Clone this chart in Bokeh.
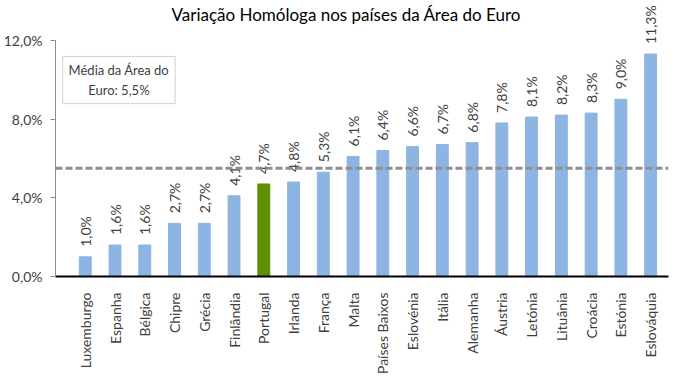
from math import pi
from bokeh.plotting import figure
from bokeh.models import ColumnDataSource, FixedTicker, Span, Label, Range1d
from bokeh.core.properties import value
from bokeh.embed import file_html
from bokeh.resources import INLINE

countries = ["Luxemburgo", "Espanha", "Bélgica", "Chipre", "Grécia", "Finlândia",
             "Portugal", "Irlanda", "França", "Malta", "Países Baixos", "Eslovénia",
             "Itália", "Alemanha", "Áustria", "Letónia", "Lituânia", "Croácia",
             "Estónia", "Eslováquia"]
values = [1.0, 1.6, 1.6, 2.7, 2.7, 4.1, 4.7, 4.8, 5.3, 6.1, 6.4, 6.6, 6.7, 6.8,
          7.8, 8.1, 8.2, 8.3, 9.0, 11.3]
euro_avg = 5.5
y_ticks = [0, 4, 8, 12]
highlight = "Portugal"

BLUE = "#8db4e2"
GREEN = "#5f8f00"
FONT = "Lato"
TXT = "#404040"

idx = list(range(len(countries)))
src = ColumnDataSource(dict(
    x=idx,
    y=values,
    color=[GREEN if c == highlight else BLUE for c in countries],
    lab=[f"{v:.1f}%".replace(".", ",") for v in values],
))

p = figure(width=681, height=377, output_backend="svg", toolbar_location=None,
           x_range=Range1d(-1.0, 19.6), y_range=Range1d(0, 14.02),
           min_border_left=54, min_border_right=13, min_border_top=0,
           min_border_bottom=99)
p.outline_line_color = None
p.xgrid.grid_line_color = None
p.ygrid.grid_line_color = None
p.background_fill_color = "white"
p.border_fill_color = "white"

p.vbar(x="x", top="y", width=0.4, color="color", source=src)

p.text(x="x", y="y", text="lab", source=src, angle=pi / 2, y_offset=-10,
       text_align="left", text_baseline="middle", text_font=value(FONT),
       text_font_size="14px", text_color=TXT)

p.add_layout(Span(location=euro_avg, dimension="width", line_color="#8f8f8f",
                  line_width=3, line_dash="7 3"))

# y axis
p.yaxis.ticker = FixedTicker(ticks=y_ticks)
p.yaxis.major_label_overrides = {t: f"{t:.1f}%".replace(".", ",") for t in y_ticks}
p.yaxis.bounds = (y_ticks[0], y_ticks[-1])
p.yaxis.axis_line_color = "#8c8c8c"
p.yaxis.major_tick_line_color = "#8c8c8c"
p.yaxis.major_tick_in = 0
p.yaxis.major_tick_out = 5
p.yaxis.minor_tick_line_color = None
p.yaxis.major_label_text_font = FONT
p.yaxis.major_label_text_font_size = "14px"
p.yaxis.major_label_text_color = TXT
p.yaxis.major_label_standoff = 8

# x axis
p.xaxis.ticker = FixedTicker(ticks=idx)
p.xaxis.major_label_overrides = {i: c for i, c in zip(idx, countries)}
p.xaxis.major_label_orientation = pi / 2
p.xaxis.axis_line_color = "black"
p.xaxis.axis_line_width = 2
p.xaxis.major_tick_line_color = None
p.xaxis.minor_tick_line_color = None
p.xaxis.major_label_text_font = FONT
p.xaxis.major_label_text_font_size = "14px"
p.xaxis.major_label_text_color = TXT
p.xaxis.major_label_standoff = 10

p.add_layout(Label(x=8.77, y=13.3, text="Variação Homóloga nos países da Área do Euro",
                   text_align="center", text_baseline="middle", text_font=FONT,
                   text_font_size="17px", text_color="black"))

p.add_layout(Label(x=1.13, y=9.98, text="Média da Área do\nEuro: " + f"{euro_avg:.1f}%".replace(".", ","),
                   text_align="center", text_baseline="middle", text_font=FONT,
                   text_font_size="13px", text_color=TXT,
                   background_fill_color="white", border_line_color="#d0d0d0",
                   border_line_width=1, padding=6))

open("out.html", "w").write(file_html(p, INLINE))
